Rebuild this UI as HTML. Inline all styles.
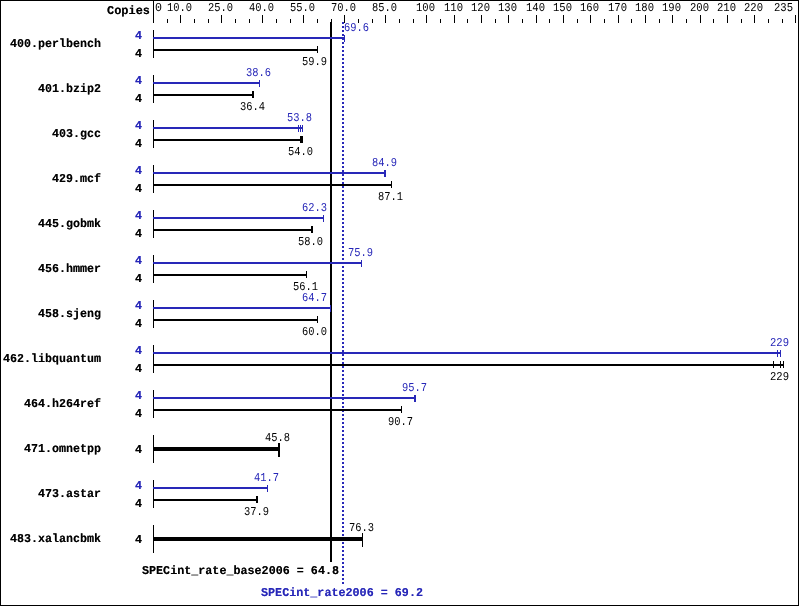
<!DOCTYPE html>
<html><head><meta charset="utf-8"><title>SPECint_rate2006</title>
<style>
html,body{margin:0;padding:0;background:#fff;width:799px;height:606px;overflow:hidden}
svg{display:block;will-change:transform}
text{font-family:"Liberation Mono","DejaVu Sans Mono",monospace;font-size:12px;text-rendering:geometricPrecision}
text.b{font-weight:bold}
text.r{font-weight:normal}
</style></head><body>
<svg width="799" height="606" viewBox="0 0 799 606" shape-rendering="crispEdges" text-rendering="geometricPrecision">
<rect x="0" y="0" width="799" height="606" fill="#fff"/>
<rect x="0" y="0" width="799" height="1" fill="#000"/>
<rect x="0" y="605" width="799" height="1" fill="#000"/>
<rect x="0" y="0" width="1" height="606" fill="#000"/>
<rect x="798" y="0" width="1" height="606" fill="#000"/>
<rect x="153" y="1" width="1" height="22" fill="#000"/>
<rect x="167" y="19" width="1" height="4" fill="#000"/>
<rect x="180" y="15" width="1" height="8" fill="#000"/>
<rect x="194" y="19" width="1" height="4" fill="#000"/>
<rect x="208" y="19" width="1" height="4" fill="#000"/>
<rect x="221" y="15" width="1" height="8" fill="#000"/>
<rect x="235" y="19" width="1" height="4" fill="#000"/>
<rect x="249" y="19" width="1" height="4" fill="#000"/>
<rect x="262" y="15" width="1" height="8" fill="#000"/>
<rect x="276" y="19" width="1" height="4" fill="#000"/>
<rect x="290" y="19" width="1" height="4" fill="#000"/>
<rect x="303" y="15" width="1" height="8" fill="#000"/>
<rect x="317" y="19" width="1" height="4" fill="#000"/>
<rect x="331" y="19" width="1" height="4" fill="#000"/>
<rect x="344" y="15" width="1" height="8" fill="#000"/>
<rect x="358" y="19" width="1" height="4" fill="#000"/>
<rect x="372" y="19" width="1" height="4" fill="#000"/>
<rect x="385" y="15" width="1" height="8" fill="#000"/>
<rect x="399" y="19" width="1" height="4" fill="#000"/>
<rect x="413" y="19" width="1" height="4" fill="#000"/>
<rect x="426" y="15" width="1" height="8" fill="#000"/>
<rect x="440" y="19" width="1" height="4" fill="#000"/>
<rect x="454" y="15" width="1" height="8" fill="#000"/>
<rect x="467" y="19" width="1" height="4" fill="#000"/>
<rect x="481" y="15" width="1" height="8" fill="#000"/>
<rect x="495" y="19" width="1" height="4" fill="#000"/>
<rect x="508" y="15" width="1" height="8" fill="#000"/>
<rect x="522" y="19" width="1" height="4" fill="#000"/>
<rect x="536" y="15" width="1" height="8" fill="#000"/>
<rect x="549" y="19" width="1" height="4" fill="#000"/>
<rect x="563" y="15" width="1" height="8" fill="#000"/>
<rect x="577" y="19" width="1" height="4" fill="#000"/>
<rect x="590" y="15" width="1" height="8" fill="#000"/>
<rect x="604" y="19" width="1" height="4" fill="#000"/>
<rect x="618" y="15" width="1" height="8" fill="#000"/>
<rect x="631" y="19" width="1" height="4" fill="#000"/>
<rect x="645" y="15" width="1" height="8" fill="#000"/>
<rect x="659" y="19" width="1" height="4" fill="#000"/>
<rect x="672" y="15" width="1" height="8" fill="#000"/>
<rect x="686" y="19" width="1" height="4" fill="#000"/>
<rect x="700" y="15" width="1" height="8" fill="#000"/>
<rect x="713" y="19" width="1" height="4" fill="#000"/>
<rect x="727" y="15" width="1" height="8" fill="#000"/>
<rect x="741" y="19" width="1" height="4" fill="#000"/>
<rect x="754" y="15" width="1" height="8" fill="#000"/>
<rect x="768" y="19" width="1" height="4" fill="#000"/>
<rect x="782" y="19" width="1" height="4" fill="#000"/>
<rect x="795" y="15" width="1" height="8" fill="#000"/>
<rect x="330" y="22" width="2" height="540" fill="#000"/>
<rect x="342" y="22" width="2" height="2" fill="#2828b8"/>
<rect x="342" y="26" width="2" height="2" fill="#2828b8"/>
<rect x="342" y="30" width="2" height="2" fill="#2828b8"/>
<rect x="342" y="34" width="2" height="2" fill="#2828b8"/>
<rect x="342" y="38" width="2" height="2" fill="#2828b8"/>
<rect x="342" y="42" width="2" height="2" fill="#2828b8"/>
<rect x="342" y="46" width="2" height="2" fill="#2828b8"/>
<rect x="342" y="50" width="2" height="2" fill="#2828b8"/>
<rect x="342" y="54" width="2" height="2" fill="#2828b8"/>
<rect x="342" y="58" width="2" height="2" fill="#2828b8"/>
<rect x="342" y="62" width="2" height="2" fill="#2828b8"/>
<rect x="342" y="66" width="2" height="2" fill="#2828b8"/>
<rect x="342" y="70" width="2" height="2" fill="#2828b8"/>
<rect x="342" y="74" width="2" height="2" fill="#2828b8"/>
<rect x="342" y="78" width="2" height="2" fill="#2828b8"/>
<rect x="342" y="82" width="2" height="2" fill="#2828b8"/>
<rect x="342" y="86" width="2" height="2" fill="#2828b8"/>
<rect x="342" y="90" width="2" height="2" fill="#2828b8"/>
<rect x="342" y="94" width="2" height="2" fill="#2828b8"/>
<rect x="342" y="98" width="2" height="2" fill="#2828b8"/>
<rect x="342" y="102" width="2" height="2" fill="#2828b8"/>
<rect x="342" y="106" width="2" height="2" fill="#2828b8"/>
<rect x="342" y="110" width="2" height="2" fill="#2828b8"/>
<rect x="342" y="114" width="2" height="2" fill="#2828b8"/>
<rect x="342" y="118" width="2" height="2" fill="#2828b8"/>
<rect x="342" y="122" width="2" height="2" fill="#2828b8"/>
<rect x="342" y="126" width="2" height="2" fill="#2828b8"/>
<rect x="342" y="130" width="2" height="2" fill="#2828b8"/>
<rect x="342" y="134" width="2" height="2" fill="#2828b8"/>
<rect x="342" y="138" width="2" height="2" fill="#2828b8"/>
<rect x="342" y="142" width="2" height="2" fill="#2828b8"/>
<rect x="342" y="146" width="2" height="2" fill="#2828b8"/>
<rect x="342" y="150" width="2" height="2" fill="#2828b8"/>
<rect x="342" y="154" width="2" height="2" fill="#2828b8"/>
<rect x="342" y="158" width="2" height="2" fill="#2828b8"/>
<rect x="342" y="162" width="2" height="2" fill="#2828b8"/>
<rect x="342" y="166" width="2" height="2" fill="#2828b8"/>
<rect x="342" y="170" width="2" height="2" fill="#2828b8"/>
<rect x="342" y="174" width="2" height="2" fill="#2828b8"/>
<rect x="342" y="178" width="2" height="2" fill="#2828b8"/>
<rect x="342" y="182" width="2" height="2" fill="#2828b8"/>
<rect x="342" y="186" width="2" height="2" fill="#2828b8"/>
<rect x="342" y="190" width="2" height="2" fill="#2828b8"/>
<rect x="342" y="194" width="2" height="2" fill="#2828b8"/>
<rect x="342" y="198" width="2" height="2" fill="#2828b8"/>
<rect x="342" y="202" width="2" height="2" fill="#2828b8"/>
<rect x="342" y="206" width="2" height="2" fill="#2828b8"/>
<rect x="342" y="210" width="2" height="2" fill="#2828b8"/>
<rect x="342" y="214" width="2" height="2" fill="#2828b8"/>
<rect x="342" y="218" width="2" height="2" fill="#2828b8"/>
<rect x="342" y="222" width="2" height="2" fill="#2828b8"/>
<rect x="342" y="226" width="2" height="2" fill="#2828b8"/>
<rect x="342" y="230" width="2" height="2" fill="#2828b8"/>
<rect x="342" y="234" width="2" height="2" fill="#2828b8"/>
<rect x="342" y="238" width="2" height="2" fill="#2828b8"/>
<rect x="342" y="242" width="2" height="2" fill="#2828b8"/>
<rect x="342" y="246" width="2" height="2" fill="#2828b8"/>
<rect x="342" y="250" width="2" height="2" fill="#2828b8"/>
<rect x="342" y="254" width="2" height="2" fill="#2828b8"/>
<rect x="342" y="258" width="2" height="2" fill="#2828b8"/>
<rect x="342" y="262" width="2" height="2" fill="#2828b8"/>
<rect x="342" y="266" width="2" height="2" fill="#2828b8"/>
<rect x="342" y="270" width="2" height="2" fill="#2828b8"/>
<rect x="342" y="274" width="2" height="2" fill="#2828b8"/>
<rect x="342" y="278" width="2" height="2" fill="#2828b8"/>
<rect x="342" y="282" width="2" height="2" fill="#2828b8"/>
<rect x="342" y="286" width="2" height="2" fill="#2828b8"/>
<rect x="342" y="290" width="2" height="2" fill="#2828b8"/>
<rect x="342" y="294" width="2" height="2" fill="#2828b8"/>
<rect x="342" y="298" width="2" height="2" fill="#2828b8"/>
<rect x="342" y="302" width="2" height="2" fill="#2828b8"/>
<rect x="342" y="306" width="2" height="2" fill="#2828b8"/>
<rect x="342" y="310" width="2" height="2" fill="#2828b8"/>
<rect x="342" y="314" width="2" height="2" fill="#2828b8"/>
<rect x="342" y="318" width="2" height="2" fill="#2828b8"/>
<rect x="342" y="322" width="2" height="2" fill="#2828b8"/>
<rect x="342" y="326" width="2" height="2" fill="#2828b8"/>
<rect x="342" y="330" width="2" height="2" fill="#2828b8"/>
<rect x="342" y="334" width="2" height="2" fill="#2828b8"/>
<rect x="342" y="338" width="2" height="2" fill="#2828b8"/>
<rect x="342" y="342" width="2" height="2" fill="#2828b8"/>
<rect x="342" y="346" width="2" height="2" fill="#2828b8"/>
<rect x="342" y="350" width="2" height="2" fill="#2828b8"/>
<rect x="342" y="354" width="2" height="2" fill="#2828b8"/>
<rect x="342" y="358" width="2" height="2" fill="#2828b8"/>
<rect x="342" y="362" width="2" height="2" fill="#2828b8"/>
<rect x="342" y="366" width="2" height="2" fill="#2828b8"/>
<rect x="342" y="370" width="2" height="2" fill="#2828b8"/>
<rect x="342" y="374" width="2" height="2" fill="#2828b8"/>
<rect x="342" y="378" width="2" height="2" fill="#2828b8"/>
<rect x="342" y="382" width="2" height="2" fill="#2828b8"/>
<rect x="342" y="386" width="2" height="2" fill="#2828b8"/>
<rect x="342" y="390" width="2" height="2" fill="#2828b8"/>
<rect x="342" y="394" width="2" height="2" fill="#2828b8"/>
<rect x="342" y="398" width="2" height="2" fill="#2828b8"/>
<rect x="342" y="402" width="2" height="2" fill="#2828b8"/>
<rect x="342" y="406" width="2" height="2" fill="#2828b8"/>
<rect x="342" y="410" width="2" height="2" fill="#2828b8"/>
<rect x="342" y="414" width="2" height="2" fill="#2828b8"/>
<rect x="342" y="418" width="2" height="2" fill="#2828b8"/>
<rect x="342" y="422" width="2" height="2" fill="#2828b8"/>
<rect x="342" y="426" width="2" height="2" fill="#2828b8"/>
<rect x="342" y="430" width="2" height="2" fill="#2828b8"/>
<rect x="342" y="434" width="2" height="2" fill="#2828b8"/>
<rect x="342" y="438" width="2" height="2" fill="#2828b8"/>
<rect x="342" y="442" width="2" height="2" fill="#2828b8"/>
<rect x="342" y="446" width="2" height="2" fill="#2828b8"/>
<rect x="342" y="450" width="2" height="2" fill="#2828b8"/>
<rect x="342" y="454" width="2" height="2" fill="#2828b8"/>
<rect x="342" y="458" width="2" height="2" fill="#2828b8"/>
<rect x="342" y="462" width="2" height="2" fill="#2828b8"/>
<rect x="342" y="466" width="2" height="2" fill="#2828b8"/>
<rect x="342" y="470" width="2" height="2" fill="#2828b8"/>
<rect x="342" y="474" width="2" height="2" fill="#2828b8"/>
<rect x="342" y="478" width="2" height="2" fill="#2828b8"/>
<rect x="342" y="482" width="2" height="2" fill="#2828b8"/>
<rect x="342" y="486" width="2" height="2" fill="#2828b8"/>
<rect x="342" y="490" width="2" height="2" fill="#2828b8"/>
<rect x="342" y="494" width="2" height="2" fill="#2828b8"/>
<rect x="342" y="498" width="2" height="2" fill="#2828b8"/>
<rect x="342" y="502" width="2" height="2" fill="#2828b8"/>
<rect x="342" y="506" width="2" height="2" fill="#2828b8"/>
<rect x="342" y="510" width="2" height="2" fill="#2828b8"/>
<rect x="342" y="514" width="2" height="2" fill="#2828b8"/>
<rect x="342" y="518" width="2" height="2" fill="#2828b8"/>
<rect x="342" y="522" width="2" height="2" fill="#2828b8"/>
<rect x="342" y="526" width="2" height="2" fill="#2828b8"/>
<rect x="342" y="530" width="2" height="2" fill="#2828b8"/>
<rect x="342" y="534" width="2" height="2" fill="#2828b8"/>
<rect x="342" y="538" width="2" height="2" fill="#2828b8"/>
<rect x="342" y="542" width="2" height="2" fill="#2828b8"/>
<rect x="342" y="546" width="2" height="2" fill="#2828b8"/>
<rect x="342" y="550" width="2" height="2" fill="#2828b8"/>
<rect x="342" y="554" width="2" height="2" fill="#2828b8"/>
<rect x="342" y="558" width="2" height="2" fill="#2828b8"/>
<rect x="342" y="562" width="2" height="2" fill="#2828b8"/>
<rect x="342" y="566" width="2" height="2" fill="#2828b8"/>
<rect x="342" y="570" width="2" height="2" fill="#2828b8"/>
<rect x="342" y="574" width="2" height="2" fill="#2828b8"/>
<rect x="342" y="578" width="2" height="2" fill="#2828b8"/>
<rect x="342" y="582" width="2" height="2" fill="#2828b8"/>
<rect x="153" y="30" width="1" height="28" fill="#000"/>
<rect x="154" y="49" width="164" height="2" fill="#000"/>
<rect x="317" y="46" width="1" height="7" fill="#000"/>
<rect x="153" y="75" width="1" height="28" fill="#000"/>
<rect x="154" y="94" width="100" height="2" fill="#000"/>
<rect x="252" y="91" width="1" height="7" fill="#000"/>
<rect x="253" y="91" width="1" height="7" fill="#000"/>
<rect x="153" y="120" width="1" height="28" fill="#000"/>
<rect x="154" y="139" width="149" height="2" fill="#000"/>
<rect x="300" y="136" width="1" height="7" fill="#000"/>
<rect x="301" y="136" width="1" height="7" fill="#000"/>
<rect x="302" y="136" width="1" height="7" fill="#000"/>
<rect x="153" y="165" width="1" height="28" fill="#000"/>
<rect x="154" y="184" width="238" height="2" fill="#000"/>
<rect x="391" y="181" width="1" height="7" fill="#000"/>
<rect x="153" y="210" width="1" height="28" fill="#000"/>
<rect x="154" y="229" width="159" height="2" fill="#000"/>
<rect x="311" y="226" width="1" height="7" fill="#000"/>
<rect x="312" y="226" width="1" height="7" fill="#000"/>
<rect x="153" y="255" width="1" height="28" fill="#000"/>
<rect x="154" y="274" width="153" height="2" fill="#000"/>
<rect x="306" y="271" width="1" height="7" fill="#000"/>
<rect x="153" y="300" width="1" height="28" fill="#000"/>
<rect x="154" y="319" width="164" height="2" fill="#000"/>
<rect x="317" y="316" width="1" height="7" fill="#000"/>
<rect x="153" y="345" width="1" height="28" fill="#000"/>
<rect x="154" y="364" width="630" height="2" fill="#000"/>
<rect x="773" y="361" width="1" height="7" fill="#000"/>
<rect x="780" y="361" width="1" height="7" fill="#000"/>
<rect x="783" y="361" width="1" height="7" fill="#000"/>
<rect x="153" y="390" width="1" height="28" fill="#000"/>
<rect x="154" y="409" width="248" height="2" fill="#000"/>
<rect x="401" y="406" width="1" height="7" fill="#000"/>
<rect x="153" y="435" width="1" height="28" fill="#000"/>
<rect x="154" y="447" width="126" height="4" fill="#000"/>
<rect x="278" y="443" width="1" height="14" fill="#000"/>
<rect x="279" y="443" width="1" height="14" fill="#000"/>
<rect x="153" y="480" width="1" height="28" fill="#000"/>
<rect x="154" y="499" width="104" height="2" fill="#000"/>
<rect x="256" y="496" width="1" height="7" fill="#000"/>
<rect x="257" y="496" width="1" height="7" fill="#000"/>
<rect x="153" y="525" width="1" height="28" fill="#000"/>
<rect x="154" y="537" width="209" height="4" fill="#000"/>
<rect x="362" y="533" width="1" height="14" fill="#000"/>
<rect x="153" y="37" width="192" height="2" fill="#2828b8"/>
<rect x="344" y="35" width="1" height="7" fill="#2828b8"/>
<rect x="153" y="82" width="107" height="2" fill="#2828b8"/>
<rect x="259" y="80" width="1" height="7" fill="#2828b8"/>
<rect x="153" y="127" width="150" height="2" fill="#2828b8"/>
<rect x="298" y="125" width="1" height="7" fill="#2828b8"/>
<rect x="300" y="125" width="1" height="7" fill="#2828b8"/>
<rect x="302" y="125" width="1" height="7" fill="#2828b8"/>
<rect x="153" y="172" width="233" height="2" fill="#2828b8"/>
<rect x="384" y="170" width="1" height="7" fill="#2828b8"/>
<rect x="385" y="170" width="1" height="7" fill="#2828b8"/>
<rect x="153" y="217" width="171" height="2" fill="#2828b8"/>
<rect x="323" y="215" width="1" height="7" fill="#2828b8"/>
<rect x="153" y="262" width="209" height="2" fill="#2828b8"/>
<rect x="361" y="260" width="1" height="7" fill="#2828b8"/>
<rect x="153" y="307" width="178" height="2" fill="#2828b8"/>
<rect x="330" y="305" width="1" height="7" fill="#2828b8"/>
<rect x="153" y="352" width="628" height="2" fill="#2828b8"/>
<rect x="777" y="350" width="1" height="7" fill="#2828b8"/>
<rect x="780" y="350" width="1" height="7" fill="#2828b8"/>
<rect x="153" y="397" width="263" height="2" fill="#2828b8"/>
<rect x="414" y="395" width="1" height="7" fill="#2828b8"/>
<rect x="415" y="395" width="1" height="7" fill="#2828b8"/>
<rect x="153" y="487" width="115" height="2" fill="#2828b8"/>
<rect x="267" y="485" width="1" height="7" fill="#2828b8"/>
<defs><filter id="crisp" x="0" y="0" width="799" height="606" filterUnits="userSpaceOnUse"><feComponentTransfer><feFuncA type="table" tableValues="0 0.7 1"/></feComponentTransfer></filter><filter id="crispR" x="0" y="0" width="799" height="606" filterUnits="userSpaceOnUse"><feComponentTransfer><feFuncA type="table" tableValues="0 1"/></feComponentTransfer></filter></defs>
<g filter="url(#crispR)">
<text lengthAdjust="spacingAndGlyphs" class="r" x="155" y="11" textLength="7">0</text>
<text lengthAdjust="spacingAndGlyphs" class="r" x="167" y="11" textLength="25">10.0</text>
<text lengthAdjust="spacingAndGlyphs" class="r" x="208" y="11" textLength="25">25.0</text>
<text lengthAdjust="spacingAndGlyphs" class="r" x="249" y="11" textLength="25">40.0</text>
<text lengthAdjust="spacingAndGlyphs" class="r" x="290" y="11" textLength="25">55.0</text>
<text lengthAdjust="spacingAndGlyphs" class="r" x="331" y="11" textLength="25">70.0</text>
<text lengthAdjust="spacingAndGlyphs" class="r" x="372" y="11" textLength="25">85.0</text>
<text lengthAdjust="spacingAndGlyphs" class="r" x="416" y="11" textLength="19">100</text>
<text lengthAdjust="spacingAndGlyphs" class="r" x="444" y="11" textLength="19">110</text>
<text lengthAdjust="spacingAndGlyphs" class="r" x="471" y="11" textLength="19">120</text>
<text lengthAdjust="spacingAndGlyphs" class="r" x="498" y="11" textLength="19">130</text>
<text lengthAdjust="spacingAndGlyphs" class="r" x="526" y="11" textLength="19">140</text>
<text lengthAdjust="spacingAndGlyphs" class="r" x="553" y="11" textLength="19">150</text>
<text lengthAdjust="spacingAndGlyphs" class="r" x="580" y="11" textLength="19">160</text>
<text lengthAdjust="spacingAndGlyphs" class="r" x="608" y="11" textLength="19">170</text>
<text lengthAdjust="spacingAndGlyphs" class="r" x="635" y="11" textLength="19">180</text>
<text lengthAdjust="spacingAndGlyphs" class="r" x="662" y="11" textLength="19">190</text>
<text lengthAdjust="spacingAndGlyphs" class="r" x="690" y="11" textLength="19">200</text>
<text lengthAdjust="spacingAndGlyphs" class="r" x="717" y="11" textLength="19">210</text>
<text lengthAdjust="spacingAndGlyphs" class="r" x="744" y="11" textLength="19">220</text>
<text lengthAdjust="spacingAndGlyphs" class="r" x="774" y="11" textLength="19">235</text>
<text lengthAdjust="spacingAndGlyphs" class="r" x="302" y="65" textLength="25">59.9</text>
<text lengthAdjust="spacingAndGlyphs" class="r" x="240" y="110" textLength="25">36.4</text>
<text lengthAdjust="spacingAndGlyphs" class="r" x="288" y="155" textLength="25">54.0</text>
<text lengthAdjust="spacingAndGlyphs" class="r" x="378" y="200" textLength="25">87.1</text>
<text lengthAdjust="spacingAndGlyphs" class="r" x="298" y="245" textLength="25">58.0</text>
<text lengthAdjust="spacingAndGlyphs" class="r" x="293" y="290" textLength="25">56.1</text>
<text lengthAdjust="spacingAndGlyphs" class="r" x="302" y="335" textLength="25">60.0</text>
<text lengthAdjust="spacingAndGlyphs" class="r" x="770" y="380" textLength="19">229</text>
<text lengthAdjust="spacingAndGlyphs" class="r" x="388" y="425" textLength="25">90.7</text>
<text lengthAdjust="spacingAndGlyphs" class="r" x="265" y="441" textLength="25">45.8</text>
<text lengthAdjust="spacingAndGlyphs" class="r" x="244" y="515" textLength="25">37.9</text>
<text lengthAdjust="spacingAndGlyphs" class="r" x="349" y="531" textLength="25">76.3</text>
<text lengthAdjust="spacingAndGlyphs" class="r" x="344" y="31" textLength="25" fill="#2828b8">69.6</text>
<text lengthAdjust="spacingAndGlyphs" class="r" x="246" y="76" textLength="25" fill="#2828b8">38.6</text>
<text lengthAdjust="spacingAndGlyphs" class="r" x="287" y="121" textLength="25" fill="#2828b8">53.8</text>
<text lengthAdjust="spacingAndGlyphs" class="r" x="372" y="166" textLength="25" fill="#2828b8">84.9</text>
<text lengthAdjust="spacingAndGlyphs" class="r" x="302" y="211" textLength="25" fill="#2828b8">62.3</text>
<text lengthAdjust="spacingAndGlyphs" class="r" x="348" y="256" textLength="25" fill="#2828b8">75.9</text>
<text lengthAdjust="spacingAndGlyphs" class="r" x="302" y="301" textLength="25" fill="#2828b8">64.7</text>
<text lengthAdjust="spacingAndGlyphs" class="r" x="770" y="346" textLength="19" fill="#2828b8">229</text>
<text lengthAdjust="spacingAndGlyphs" class="r" x="402" y="391" textLength="25" fill="#2828b8">95.7</text>
<text lengthAdjust="spacingAndGlyphs" class="r" x="254" y="481" textLength="25" fill="#2828b8">41.7</text>
</g>
<g filter="url(#crisp)">
<text lengthAdjust="spacingAndGlyphs" class="b" x="107" y="14" textLength="43">Copies</text>
<text lengthAdjust="spacingAndGlyphs" class="b" x="10" y="47" textLength="91">400.perlbench</text>
<text lengthAdjust="spacingAndGlyphs" class="b" x="135" y="57" textLength="7">4</text>
<text lengthAdjust="spacingAndGlyphs" class="b" x="38" y="92" textLength="63">401.bzip2</text>
<text lengthAdjust="spacingAndGlyphs" class="b" x="135" y="102" textLength="7">4</text>
<text lengthAdjust="spacingAndGlyphs" class="b" x="52" y="137" textLength="49">403.gcc</text>
<text lengthAdjust="spacingAndGlyphs" class="b" x="135" y="147" textLength="7">4</text>
<text lengthAdjust="spacingAndGlyphs" class="b" x="52" y="182" textLength="49">429.mcf</text>
<text lengthAdjust="spacingAndGlyphs" class="b" x="135" y="192" textLength="7">4</text>
<text lengthAdjust="spacingAndGlyphs" class="b" x="38" y="227" textLength="63">445.gobmk</text>
<text lengthAdjust="spacingAndGlyphs" class="b" x="135" y="237" textLength="7">4</text>
<text lengthAdjust="spacingAndGlyphs" class="b" x="38" y="272" textLength="63">456.hmmer</text>
<text lengthAdjust="spacingAndGlyphs" class="b" x="135" y="282" textLength="7">4</text>
<text lengthAdjust="spacingAndGlyphs" class="b" x="38" y="317" textLength="63">458.sjeng</text>
<text lengthAdjust="spacingAndGlyphs" class="b" x="135" y="327" textLength="7">4</text>
<text lengthAdjust="spacingAndGlyphs" class="b" x="3" y="362" textLength="98">462.libquantum</text>
<text lengthAdjust="spacingAndGlyphs" class="b" x="135" y="372" textLength="7">4</text>
<text lengthAdjust="spacingAndGlyphs" class="b" x="24" y="407" textLength="77">464.h264ref</text>
<text lengthAdjust="spacingAndGlyphs" class="b" x="135" y="417" textLength="7">4</text>
<text lengthAdjust="spacingAndGlyphs" class="b" x="24" y="452" textLength="77">471.omnetpp</text>
<text lengthAdjust="spacingAndGlyphs" class="b" x="135" y="453" textLength="7">4</text>
<text lengthAdjust="spacingAndGlyphs" class="b" x="38" y="497" textLength="63">473.astar</text>
<text lengthAdjust="spacingAndGlyphs" class="b" x="135" y="507" textLength="7">4</text>
<text lengthAdjust="spacingAndGlyphs" class="b" x="10" y="542" textLength="91">483.xalancbmk</text>
<text lengthAdjust="spacingAndGlyphs" class="b" x="135" y="543" textLength="7">4</text>
<text lengthAdjust="spacingAndGlyphs" class="b" x="135" y="39" textLength="7" fill="#2828b8">4</text>
<text lengthAdjust="spacingAndGlyphs" class="b" x="135" y="84" textLength="7" fill="#2828b8">4</text>
<text lengthAdjust="spacingAndGlyphs" class="b" x="135" y="129" textLength="7" fill="#2828b8">4</text>
<text lengthAdjust="spacingAndGlyphs" class="b" x="135" y="174" textLength="7" fill="#2828b8">4</text>
<text lengthAdjust="spacingAndGlyphs" class="b" x="135" y="219" textLength="7" fill="#2828b8">4</text>
<text lengthAdjust="spacingAndGlyphs" class="b" x="135" y="264" textLength="7" fill="#2828b8">4</text>
<text lengthAdjust="spacingAndGlyphs" class="b" x="135" y="309" textLength="7" fill="#2828b8">4</text>
<text lengthAdjust="spacingAndGlyphs" class="b" x="135" y="354" textLength="7" fill="#2828b8">4</text>
<text lengthAdjust="spacingAndGlyphs" class="b" x="135" y="399" textLength="7" fill="#2828b8">4</text>
<text lengthAdjust="spacingAndGlyphs" class="b" x="135" y="489" textLength="7" fill="#2828b8">4</text>
<text lengthAdjust="spacingAndGlyphs" class="b" x="142" y="574" textLength="197">SPECint_rate_base2006 = 64.8</text>
<text lengthAdjust="spacingAndGlyphs" class="b" x="261" y="596" textLength="162" fill="#2828b8">SPECint_rate2006 = 69.2</text>
</g>
</svg>
</body></html>
